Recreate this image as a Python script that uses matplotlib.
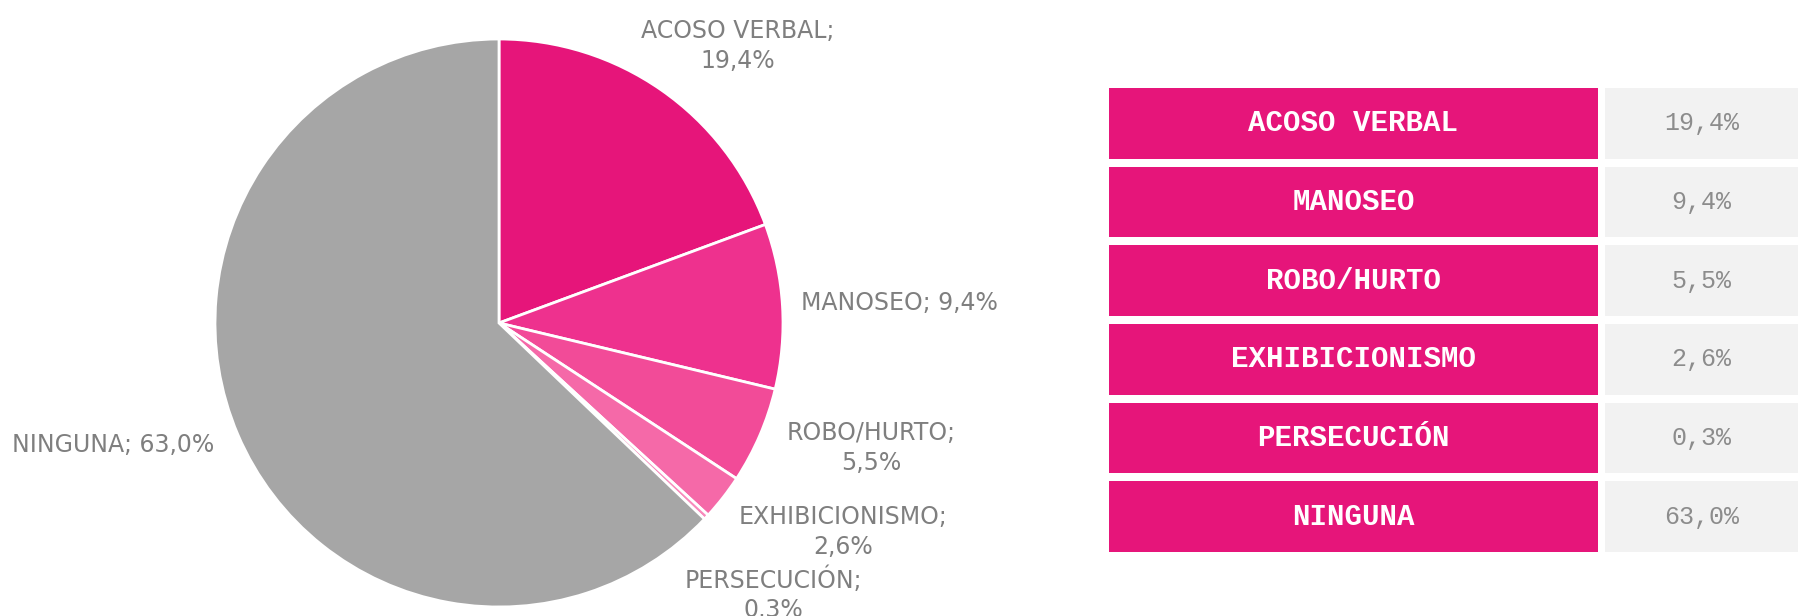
# incidents_chart.py
# Script to draw the pie chart and the summary table of reported incidents.

import matplotlib.pyplot as plt

# Global constants for the categories and their shares
CATEGORIES = ['ACOSO VERBAL', 'MANOSEO', 'ROBO/HURTO', 'EXHIBICIONISMO', 'PERSECUCIÓN', 'NINGUNA']
SHARES = [19.4, 9.4, 5.5, 2.6, 0.3, 63.0]
SHARE_LABELS = ['19,4%', '9,4%', '5,5%', '2,6%', '0,3%', '63,0%']
SLICE_COLORS = ['#E6157A', '#EE318E', '#F24B98', '#F569A8', '#F78ABB', '#A6A6A6']

FIG_W, FIG_H = 1810, 616 # Output size in pixels (dpi = 100)


def pixel_axes(fig, left, top, width, height):
    """Adds an axes placed by pixel coordinates measured from the top-left corner."""
    return fig.add_axes([left / FIG_W, 1 - (top + height) / FIG_H, width / FIG_W, height / FIG_H])


def draw_pie(fig):
    """Draws the pie with its labels placed beside each slice."""
    cx, cy, r = 499, 323, 284
    ax = pixel_axes(fig, cx - r, cy - r, 2 * r, 2 * r)
    ax.pie(SHARES, colors=SLICE_COLORS, startangle=90, counterclock=False,
           wedgeprops={'edgecolor': 'white', 'linewidth': 2})
    ax.set_xlim(-1, 1)
    ax.set_ylim(-1, 1)

    # Label positions in pie units (radius = 1)
    label_spots = [(0.84, 0.975, True), (1.41, 0.07, False), (1.31, -0.44, True),
                   (1.21, -0.735, True), (0.965, -0.955, True), (-1.36, -0.43, False)]
    for name, share, (x, y, two_lines) in zip(CATEGORIES, SHARE_LABELS, label_spots):
        sep = '\n' if two_lines else ' '
        ax.text(x, y, f'{name};{sep}{share}', ha='center', va='center', fontsize=17,
                color='#7F7F7F', linespacing=1.3, clip_on=False)


def draw_table(fig):
    """Draws the two-column table with the category names and the shares."""
    ax = pixel_axes(fig, 1109, 88, 689, 464)
    rows = list(range(len(CATEGORIES)))
    split = 489 / 689
    gap = 7 / 689
    ax.barh(rows, [split] * len(rows), left=0, height=0.9, color='#E6157A')
    ax.barh(rows, [1 - split - gap] * len(rows), left=split + gap, height=0.9, color='#F2F2F2')
    for i, (name, share) in enumerate(zip(CATEGORIES, SHARE_LABELS)):
        ax.text(split / 2, i, name, ha='center', va='center', fontsize=21,
                family='Liberation Mono', fontweight='bold', color='white')
        ax.text((1 + split + gap) / 2, i, share, ha='center', va='center', fontsize=18,
                family='Liberation Mono', color='#8C8C8C')
    ax.set_xlim(0, 1)
    ax.set_ylim(len(rows) - 0.55, -0.45)
    ax.axis('off')


def create_plot():
    """Builds the whole figure and saves it."""
    fig = plt.figure(figsize=(FIG_W / 100, FIG_H / 100), dpi=100)
    draw_pie(fig)
    draw_table(fig)
    fig.savefig('out.png', dpi=100, facecolor='white')
    print("Chart saved as 'out.png'")


if __name__ == "__main__":
    create_plot()
